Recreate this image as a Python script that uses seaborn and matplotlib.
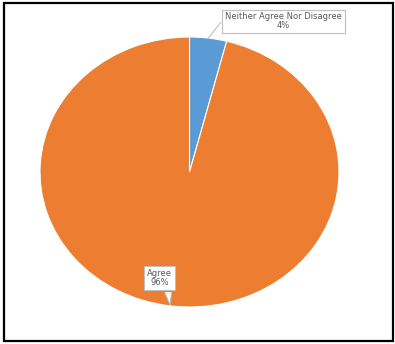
import matplotlib
matplotlib.use("Agg")
import matplotlib.pyplot as plt
import seaborn as sns
from matplotlib.patches import Rectangle, Polygon

categories = ["Neither Agree Nor Disagree", "Agree"]
shares = [4, 96]
colors = ["#5B9BD5", "#ED7D31"]

sns.set_theme(style="white")
plt.rcParams["font.family"] = ["DejaVu Sans"]

W, H = 395, 344
fig = plt.figure(figsize=(W / 100, H / 100), dpi=100)

# outer frame around the whole chart
fig.patches.append(Rectangle((4 / W, 3 / H), 389 / W, 338 / H, transform=fig.transFigure,
                             fill=False, edgecolor="black", linewidth=1.6, zorder=10))

# pie occupies an ellipse: x 40..339 px, y 37..307 px
ax = fig.add_axes([40 / W, 37 / H, 299 / W, 270 / H])
wedges, _ = ax.pie(shares, colors=colors, startangle=90, counterclock=False,
                   wedgeprops=dict(edgecolor="white", linewidth=0.8))
ax.set_aspect("auto")
ax.set_xlim(-1, 1)
ax.set_ylim(-1, 1)
ax.axis("off")

text_color = "#595959"
box_edge = "#BFBFBF"

# label for the small slice, with a leader line
ax.plot([0.125, 0.21], [0.99, 1.11], color=box_edge, linewidth=0.8, clip_on=False)
ax.text(0.629, 1.115, f"{categories[0]}\n{shares[0]}%", ha="center", va="center",
        fontsize=6, color=text_color, linespacing=1.0,
        bbox=dict(boxstyle="square,pad=0.35", facecolor="white", edgecolor=box_edge, linewidth=0.8),
        clip_on=False, zorder=5)

# callout for the large slice: box plus a pointer merging into its bottom edge
ax.text(-0.2, -0.785, f"{categories[1]}\n{shares[1]}%", ha="center", va="center",
        fontsize=6, color=text_color, linespacing=1.0,
        bbox=dict(boxstyle="square,pad=0.35", facecolor="white", edgecolor=box_edge, linewidth=0.8),
        clip_on=False, zorder=5)
tip = (-0.13, -0.985)
left, right, top = -0.165, -0.12, -0.89
ax.add_patch(Polygon([[left, top], [right, top], list(tip)], closed=True,
                     facecolor="white", edgecolor="none", zorder=6, clip_on=False))
ax.plot([left, tip[0], right], [top - 0.005, tip[1], top - 0.005], color=box_edge,
        linewidth=0.8, zorder=7, clip_on=False)

fig.savefig("out.png", dpi=100)
